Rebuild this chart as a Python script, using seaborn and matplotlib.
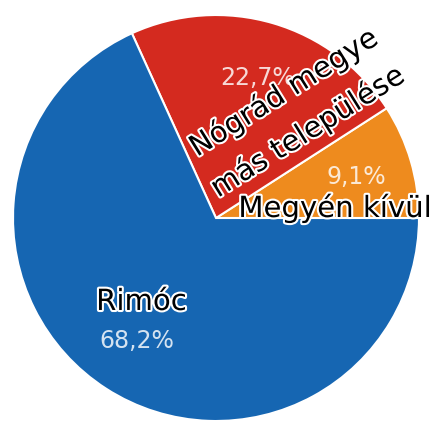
import matplotlib
matplotlib.use("Agg")
import matplotlib.pyplot as plt
import matplotlib.patheffects as pe
import seaborn as sns

sns.set_theme(style="white")
plt.rcParams['font.family'] = ['DejaVu Sans']

# data (counter-clockwise from 3 o'clock)
categories = ['Megyén kívül', 'Nógrád megye\nmás települése', 'Rimóc']
shares = [9.1, 22.7, 68.2]
colors = sns.color_palette(['#ee8b1e', '#d42a1f', '#1666b2'])

fig = plt.figure(figsize=(4.32, 4.21), dpi=100)
ax = fig.add_axes([0, 0, 1, 1])

wedges, texts, autotexts = ax.pie(
    shares, colors=colors, startangle=0, counterclock=True,
    radius=1.0, pctdistance=0.72,
    autopct=lambda p: f"{p:.1f}%".replace('.', ','),
    wedgeprops=dict(edgecolor='white', linewidth=1.5),
    textprops=dict(color='white', alpha=0.82, fontsize=17),
)

ax.set_xlim(-1.064, 1.064)
ax.set_ylim(-1.0, 1.074)
ax.set_aspect('equal')
ax.axis('off')

outline = [pe.withStroke(linewidth=3, foreground='white')]
lbl = dict(color='black', fontsize=21, path_effects=outline,
           rotation_mode='anchor', va='baseline', ha='left')

ax.text(0.11, 0.005, categories[0], **lbl)
line1, line2 = categories[1].split('\n')
ax.text(-0.094, 0.300, line1, rotation=32, **lbl)
ax.text(0.01, 0.099, line2, rotation=32, **lbl)
ax.text(-0.367, -0.453, categories[2], **{**lbl, 'ha': 'center'})

fig.savefig('out.png', dpi=100)
